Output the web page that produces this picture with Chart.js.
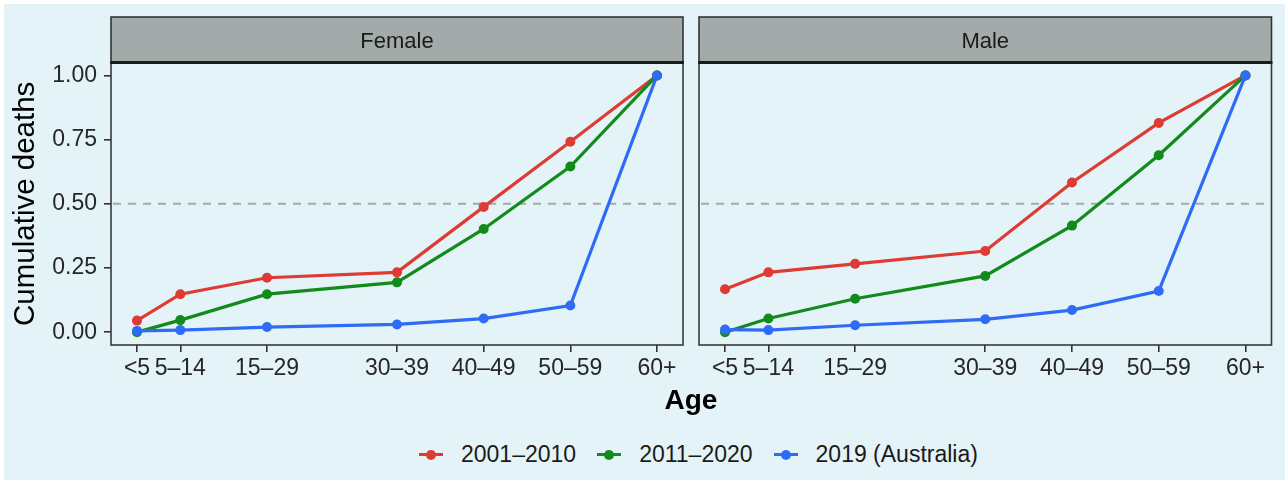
<!DOCTYPE html>
<html>
<head>
<meta charset="utf-8">
<script src="https://cdn.jsdelivr.net/npm/chart.js@4.4.1/dist/chart.umd.min.js"></script>
<style>
  html, body { margin: 0; padding: 0; background: #ffffff; }
  body { width: 1285px; height: 481px; position: relative; overflow: hidden;
         font-family: "Liberation Sans", Arial, Helvetica, sans-serif; }
  #bg { position: absolute; left: 4px; top: 4px; width: 1281px; height: 476px; background: #e4f3f7; }
  canvas { position: absolute; top: 0; }
  #female { left: 0; }
  #male { left: 690px; }
  #xtitle { position: absolute; left: 691px; top: 386px; transform: translateX(-50%);
            font-size: 28px; line-height: 28px; font-weight: bold; color: #000; }
  #legend { position: absolute; left: 419px; top: 443px; height: 23px; display: flex; align-items: center;
            font-size: 23px; line-height: 23px; color: #1a1a1a; white-space: nowrap; }
  .item { display: flex; align-items: center; margin-right: 21px; }
  .key { position: relative; width: 24px; height: 23px; margin-right: 18px; }
  .key .ln { position: absolute; left: 0; top: 10px; width: 24px; height: 3px; }
  .key .pt { position: absolute; left: 7px; top: 6.5px; width: 10px; height: 10px; border-radius: 50%; }
</style>
</head>
<body>
<div id="bg"></div>
<canvas id="female" width="690" height="390"></canvas>
<canvas id="male" width="595" height="390"></canvas>
<div id="xtitle">Age</div>
<div id="legend"></div>
<script>
// Age groups, placed on the axis at the first year of each band
const ageGroups = ['<5', '5–14', '15–29', '30–39', '40–49', '50–59', '60+'];
const ageStart = [0, 5, 15, 30, 40, 50, 60];
const yTicks = [0, 0.25, 0.5, 0.75, 1.0];

const seriesNames = ['2001–2010', '2011–2020', '2019 (Australia)'];
const seriesColors = ['#dd3b33', '#138a1c', '#2f6cf6'];

// Cumulative share of deaths by age group
const female2001 = [0.045, 0.148, 0.212, 0.233, 0.488, 0.742, 1.0];
const female2011 = [0.0, 0.047, 0.148, 0.194, 0.402, 0.645, 1.0];
const female2019 = [0.005, 0.008, 0.020, 0.030, 0.053, 0.104, 1.0];
const male2001 = [0.167, 0.233, 0.266, 0.316, 0.583, 0.815, 1.0];
const male2011 = [0.0, 0.053, 0.130, 0.219, 0.415, 0.689, 1.0];
const male2019 = [0.010, 0.008, 0.027, 0.050, 0.086, 0.160, 1.0];

const halfLine = 0.5;

const FONT = '"Liberation Sans", Arial, Helvetica, sans-serif';
const TICK_COLOR = '#262626';

function makeDatasets(seriesValues) {
  return seriesValues.map((vals, i) => ({
    label: seriesNames[i],
    data: vals.map((v, k) => ({ x: ageStart[k], y: v })),
    borderColor: seriesColors[i],
    backgroundColor: seriesColors[i],
    pointBackgroundColor: seriesColors[i],
    borderWidth: 3.2,
    pointRadius: 5,
    pointBorderWidth: 0,
    tension: 0,
    // later series sit on top
    order: seriesValues.length - i
  }));
}

// Facet strip, reference line and panel frame
const panelDecor = {
  id: 'panelDecor',
  beforeDraw(chart) {
    const { ctx, chartArea: a } = chart;
    const tb = chart.titleBlock;
    ctx.save();
    ctx.fillStyle = '#a3aaaa';
    ctx.fillRect(a.left, tb.top, a.right - a.left, a.top - tb.top);
    ctx.restore();
  },
  beforeDatasetsDraw(chart) {
    const { ctx, chartArea: a, scales } = chart;
    const y = scales.y.getPixelForValue(halfLine);
    ctx.save();
    ctx.strokeStyle = '#a3abab';
    ctx.lineWidth = 2;
    ctx.setLineDash([8, 7]);
    ctx.beginPath();
    ctx.moveTo(a.left + 2, y);
    ctx.lineTo(a.right, y);
    ctx.stroke();
    ctx.restore();
  },
  afterDraw(chart) {
    const { ctx, chartArea: a } = chart;
    const tb = chart.titleBlock;
    ctx.save();
    ctx.strokeStyle = '#333333';
    ctx.lineWidth = 1.6;
    ctx.strokeRect(a.left, tb.top, a.right - a.left, a.top - tb.top);
    ctx.strokeStyle = '#3a3a3a';
    ctx.strokeRect(a.left, a.top, a.right - a.left, a.bottom - a.top);
    ctx.strokeStyle = '#1a1a1a';
    ctx.lineWidth = 3;
    ctx.beginPath();
    ctx.moveTo(a.left - 0.8, a.top);
    ctx.lineTo(a.right + 0.8, a.top);
    ctx.stroke();
    ctx.restore();
  }
};

function makeChart(id, title, seriesValues, withYAxis, padding) {
  const ctx = document.getElementById(id);
  return new Chart(ctx, {
    type: 'line',
    data: { datasets: makeDatasets(seriesValues) },
    plugins: [panelDecor],
    options: {
      responsive: false,
      devicePixelRatio: 1,
      animation: false,
      events: [],
      layout: { padding },
      plugins: {
        legend: { display: false },
        tooltip: { enabled: false },
        title: {
          display: true,
          text: title,
          fullSize: false,
          color: '#1a1a1a',
          font: { family: FONT, size: 22, weight: 'normal', lineHeight: 1.2 },
          padding: { top: 11.6, bottom: 7.6 }
        }
      },
      scales: {
        x: {
          type: 'linear',
          min: -3,
          max: 63,
          afterBuildTicks: (s) => { s.ticks = ageStart.map(v => ({ value: v })); },
          afterFit: (s) => { s.height = 42; },
          ticks: {
            autoSkip: false,
            maxRotation: 0,
            minRotation: 0,
            padding: 3,
            color: TICK_COLOR,
            font: { family: FONT, size: 23, lineHeight: 1.2 },
            callback: (value, index) => ageGroups[index]
          },
          grid: { display: true, drawOnChartArea: false, drawTicks: true, tickLength: 7,
                  color: '#333333', lineWidth: 1.6 },
          border: { display: false }
        },
        y: {
          display: withYAxis,
          min: -0.05,
          max: 1.05,
          afterBuildTicks: (s) => { s.ticks = yTicks.map(v => ({ value: v })); },
          afterFit: (s) => { s.width = withYAxis ? 111 : 0; },
          ticks: {
            padding: 7,
            color: TICK_COLOR,
            font: { family: FONT, size: 23, lineHeight: 1.2 },
            callback: (value) => Number(value).toFixed(2)
          },
          grid: { display: true, drawOnChartArea: false, drawTicks: true, tickLength: 7,
                  color: '#333333', lineWidth: 1.6 },
          border: { display: false },
          title: {
            display: true,
            text: 'Cumulative deaths',
            color: '#000000',
            font: { family: FONT, size: 29.5, lineHeight: 1.2 },
            padding: { top: 8, bottom: 0 }
          }
        }
      }
    }
  });
}

makeChart('female', 'Female', [female2001, female2011, female2019], true,
  { left: 0, right: 7, top: 17, bottom: 3 });
makeChart('male', 'Male', [male2001, male2011, male2019], false,
  { left: 9, right: 13.5, top: 17, bottom: 3 });

// Shared legend below both panels
const legend = document.getElementById('legend');
seriesNames.forEach((name, i) => {
  const item = document.createElement('div');
  item.className = 'item';
  const key = document.createElement('div');
  key.className = 'key';
  const ln = document.createElement('div');
  ln.className = 'ln';
  ln.style.background = seriesColors[i];
  const pt = document.createElement('div');
  pt.className = 'pt';
  pt.style.background = seriesColors[i];
  key.appendChild(ln);
  key.appendChild(pt);
  const label = document.createElement('span');
  label.textContent = name;
  item.appendChild(key);
  item.appendChild(label);
  legend.appendChild(item);
});
</script>
</body>
</html>
